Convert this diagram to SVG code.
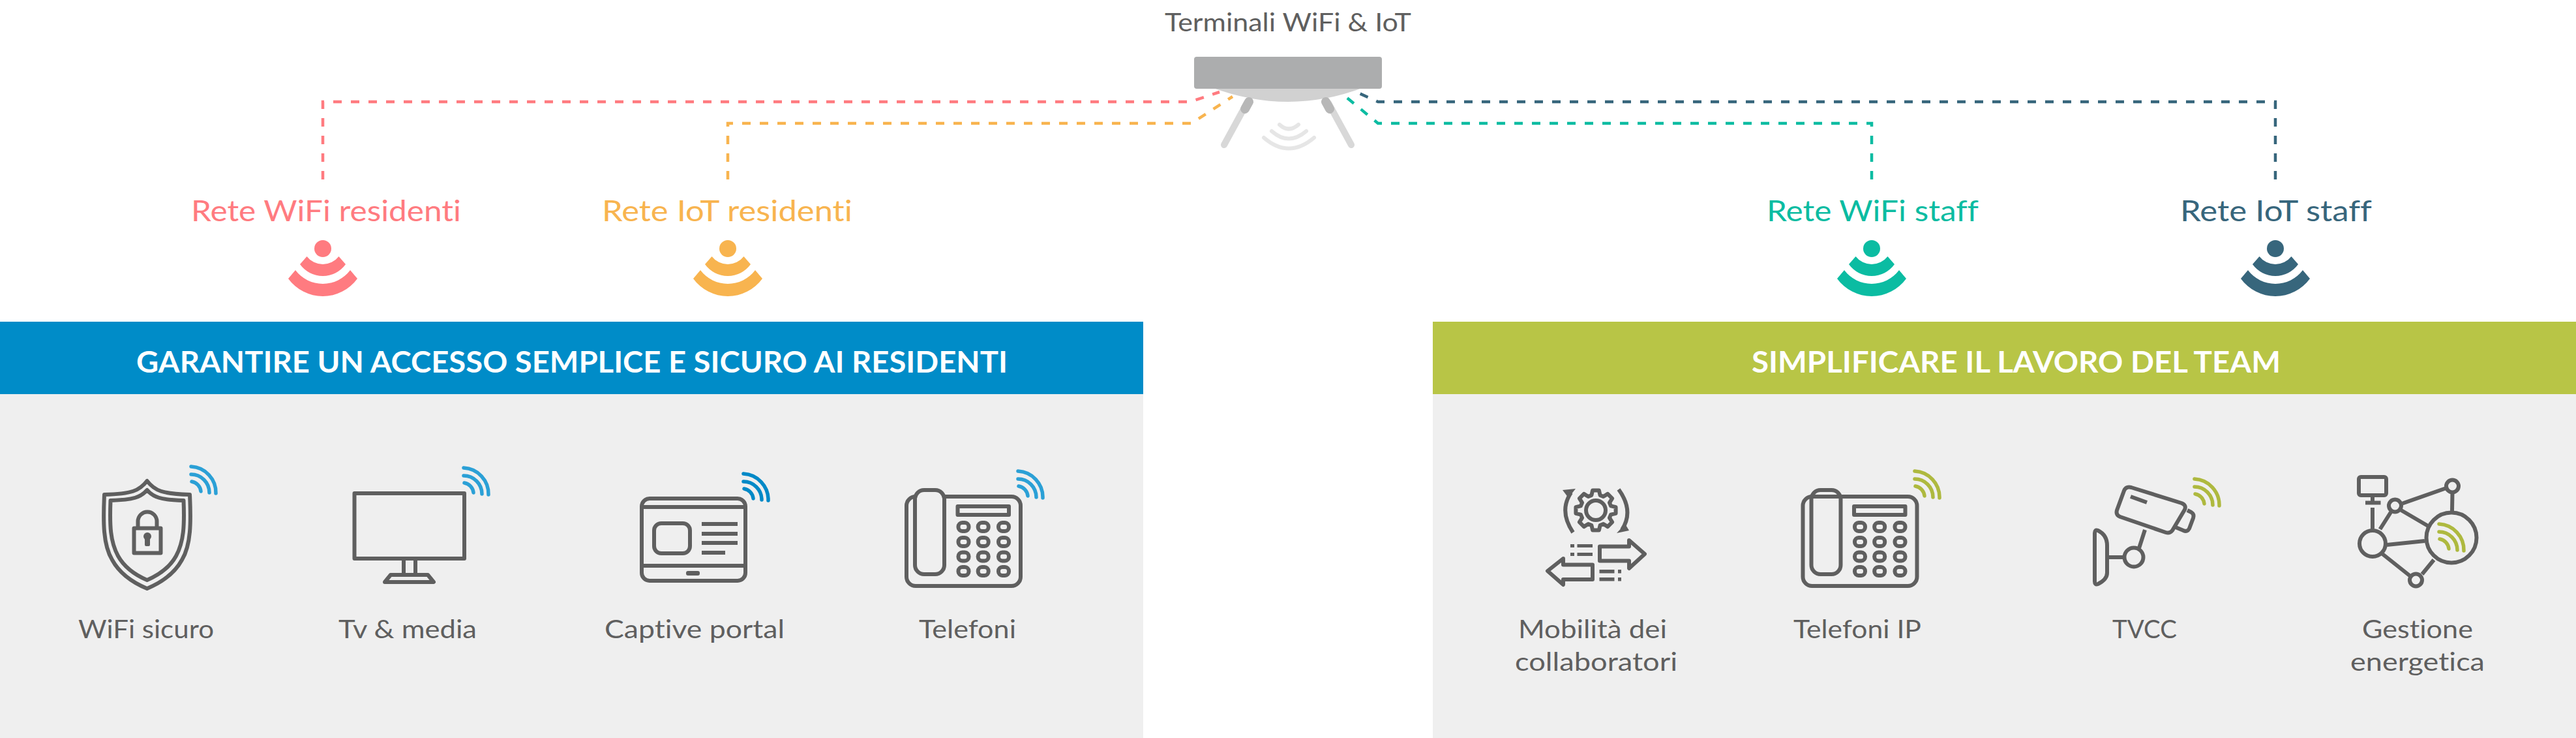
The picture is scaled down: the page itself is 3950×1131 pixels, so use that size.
<svg xmlns="http://www.w3.org/2000/svg" xmlns:xlink="http://www.w3.org/1999/xlink" width="3950" height="1131" viewBox="0 0 3950 1131">
<style>
text{font-family:"Lato","Liberation Sans",sans-serif;font-variant-ligatures:none;}
.lbl{font-size:38px;fill:#5f5f5f;}
.net{font-size:44px;}
.hdr{font-size:45px;font-weight:700;fill:#fff;}
.ic{fill:none;stroke:#5f5f5f;stroke-width:6;stroke-linejoin:round;stroke-linecap:butt;}
.ici{fill:#5f5f5f;}
.dash{fill:none;stroke-width:4.5;stroke-dasharray:13 14;}
.panel{fill:#efefef;}
.wf{fill:none;stroke:currentColor;stroke-width:5.5;stroke-linecap:round;}
.blue{color:#2ba0d6;}
.blue2{color:#0089c7;}
.green{color:#aeb93f;}
</style>
<defs>
<g id="wifi-mini" class="wf">
<path d="M1 -17A17 17 0 0 1 15 -2"/>
<path d="M0 -28A28 28 0 0 1 28 0"/>
<path d="M0 -40A40 40 0 0 1 38 1"/>
</g>
<g id="wifi-net">
<circle cx="0" cy="-73" r="13"/>
<path d="M-24.500 -61A31 31 0 0 0 24.500 -61L35 -49A43 43 0 0 1 -35 -49Z"/>
<path d="M-42 -40A52.500 52.500 0 0 0 42 -40L53 -27A65.500 65.500 0 0 1 -53 -27Z"/>
</g>
<g id="phone-body">
<rect x="1390" y="761" width="175" height="137" rx="14"/>
<rect x="1468.5" y="776" width="78.5" height="13"/>
<g id="phone-keys">
<rect x="1469.5" y="801" width="16" height="13" rx="6"/><rect x="1499.7" y="801" width="16" height="13" rx="6"/><rect x="1531" y="801" width="16" height="13" rx="6"/>
<rect x="1469.5" y="824" width="16" height="13" rx="6"/><rect x="1499.7" y="824" width="16" height="13" rx="6"/><rect x="1531" y="824" width="16" height="13" rx="6"/>
<rect x="1469.5" y="846.500" width="16" height="13" rx="6"/><rect x="1499.7" y="846.500" width="16" height="13" rx="6"/><rect x="1531" y="846.500" width="16" height="13" rx="6"/>
<rect x="1469.5" y="869" width="16" height="13" rx="6"/><rect x="1499.7" y="869" width="16" height="13" rx="6"/><rect x="1531" y="869" width="16" height="13" rx="6"/>
</g>
</g>
</defs>

<rect width="3950" height="1131" fill="#fff"/>

<g id="panel-residenti">
<rect class="panel" x="0" y="604" width="1753" height="527"/>
<rect x="0" y="493" width="1753" height="111" fill="#008cc8"/>
<text class="hdr" x="209" y="571" textLength="1336" lengthAdjust="spacingAndGlyphs">GARANTIRE UN ACCESSO SEMPLICE E SICURO AI RESIDENTI</text>
</g>
<g id="panel-team">
<rect class="panel" x="2197" y="604" width="1753" height="527"/>
<rect x="2197" y="493" width="1753" height="111" fill="#b8c546"/>
<text class="hdr" x="2686" y="571" textLength="811" lengthAdjust="spacingAndGlyphs">SIMPLIFICARE IL LAVORO DEL TEAM</text>
</g>

<g id="device">
<text class="lbl" x="1786" y="48" textLength="378" lengthAdjust="spacingAndGlyphs">Terminali WiFi &amp; IoT</text>
<path d="M1858 134Q1976 178 2091 134Z" fill="#d1d1d1"/>
<rect x="1831" y="87" width="288" height="49" rx="4" fill="#acadae"/>
<path d="M1912 158L1877 222" fill="none" stroke="#d8d8d8" stroke-width="10" stroke-linecap="round"/>
<path d="M2037 158L2072 222" fill="none" stroke="#d8d8d8" stroke-width="10" stroke-linecap="round"/>
<path d="M1915 156L1909 167" fill="none" stroke="#b7b7b7" stroke-width="14" stroke-linecap="round"/>
<path d="M2033 156L2039 167" fill="none" stroke="#b7b7b7" stroke-width="14" stroke-linecap="round"/>
<g fill="none" stroke="#e6e6e6" stroke-width="6" stroke-linecap="round">
<path d="M1962 191Q1976 204 1991 191"/>
<path d="M1950 201Q1976 224 2003 201"/>
<path d="M1938 211Q1976 244 2015 211"/>
</g>
</g>

<g id="connectors">
<path class="dash" stroke="#ff7b80" d="M495 275V156H1825L1870 141"/>
<path class="dash" stroke="#f8b44f" d="M1116 275V189H1827L1890 148"/>
<path class="dash" stroke="#0bbca2" d="M2870 275V189H2113L2062 147"/>
<path class="dash" stroke="#37667c" d="M3489 275V156H2113L2080 141"/>
</g>

<g id="net-wifi-residenti">
<text class="net" x="293" y="339" fill="#ff7b80" textLength="414" lengthAdjust="spacingAndGlyphs">Rete WiFi residenti</text>
<use href="#wifi-net" x="495" y="454" fill="#ff7b80"/>
</g>
<g id="net-iot-residenti">
<text class="net" x="923" y="339" fill="#f8b44f" textLength="384" lengthAdjust="spacingAndGlyphs">Rete IoT residenti</text>
<use href="#wifi-net" x="1116" y="454" fill="#f8b44f"/>
</g>
<g id="net-wifi-staff">
<text class="net" x="2709" y="339" fill="#0bbca2" textLength="325" lengthAdjust="spacingAndGlyphs">Rete WiFi staff</text>
<use href="#wifi-net" x="2870" y="454" fill="#0bbca2"/>
</g>
<g id="net-iot-staff">
<text class="net" x="3343" y="339" fill="#37667c" textLength="294" lengthAdjust="spacingAndGlyphs">Rete IoT staff</text>
<use href="#wifi-net" x="3489" y="454" fill="#37667c"/>
</g>

<g id="item-wifi-sicuro">
<path class="ic" d="M225.500 737C214 752 202 757 160 758C158 800 158 835 172 858C184 880 204 893 225.500 902C247 893 267 880 279 858C293 835 293 800 291 758C249 757 237 752 225.500 737Z"/>
<path class="ic" d="M225.500 751C216 762 205 766 169.500 767C168 805 169 830 181 852C191 870 207 881 225.500 889C244 881 260 870 270 852C282 830 283 805 281.500 767C246 766 235 762 225.500 751Z"/>
<rect class="ic" x="205.500" y="809.500" width="41" height="38"/>
<path class="ic" d="M211.500 807V799a14.500 14.500 0 0 1 29 0V807"/>
<circle class="ici" cx="226" cy="822" r="6"/><rect class="ici" x="222" y="822" width="8" height="15" rx="2"/>
<use href="#wifi-mini" x="293" y="755" class="blue"/>
<text class="lbl" x="120" y="978" textLength="208" lengthAdjust="spacingAndGlyphs">WiFi sicuro</text>
</g>

<g id="item-tv">
<rect class="ic" x="543.500" y="756" width="168.500" height="100"/>
<path class="ic" d="M619 859V878M637 859V878"/>
<path class="ic" d="M599 881H656L665 892H590Z"/>
<use href="#wifi-mini" x="711" y="757" class="blue"/>
<text class="lbl" x="519" y="978" textLength="212" lengthAdjust="spacingAndGlyphs">Tv &amp; media</text>
</g>

<g id="item-captive">
<rect class="ic" x="984" y="764" width="159" height="126" rx="12"/>
<path class="ic" d="M984 777H1143M984 867H1143"/>
<rect class="ic" x="1003" y="802" width="55" height="46" rx="11"/>
<path class="ic" d="M1076 803H1131M1076 818H1131M1076 832H1131M1076 847H1112"/>
<rect class="ici" x="1052" y="875" width="21" height="7" rx="3"/>
<use href="#wifi-mini" x="1140" y="766" class="blue2"/>
<text class="lbl" x="927" y="978" textLength="276" lengthAdjust="spacingAndGlyphs">Captive portal</text>
</g>

<g id="item-telefoni">
<use href="#phone-body" class="ic"/>
<rect class="ic" style="fill:#efefef" x="1403" y="751" width="45" height="129" rx="14"/>
<use href="#wifi-mini" x="1561" y="762" class="blue"/>
<text class="lbl" x="1409" y="978" textLength="149" lengthAdjust="spacingAndGlyphs">Telefoni</text>
</g>

<g id="item-mobilita">
<path class="ic" transform="translate(2447 782)" stroke-width="5" d="M-6.600 -23.100L-4.850 -30.600L4.850 -30.600L6.600 -23.100L11.600 -21L18.200 -25.100L25.100 -18.200L21 -11.600L23.100 -6.600L30.600 -4.850L30.600 4.850L23.100 6.600L21 11.600L25.100 18.200L18.200 25.100L11.600 21L6.600 23.100L4.850 30.600L-4.850 30.600L-6.600 23.100L-11.600 21L-18.200 25.100L-25.100 18.200L-21 11.600L-23.100 6.600L-30.600 4.850L-30.600 -4.850L-23.100 -6.600L-21 -11.600L-25.100 -18.200L-18.200 -25.100L-11.600 -21Z"/>
<circle class="ic" cx="2447" cy="782" r="15"/>
<path class="ic" d="M2412 816Q2390 783 2409 755"/>
<path class="ici" d="M2396 751L2416 749L2405 763Z"/>
<path class="ic" d="M2482 750Q2506 783 2487 812"/>
<path class="ici" d="M2498 813L2479 817L2492 803Z"/>
<path class="ic" d="M2453 837.500H2498V828L2522 849L2498 871V859.500H2453Z"/>
<path class="ic" d="M2442 865.500H2397V856L2373 875L2397 896V888H2442Z"/>
<path class="ici" d="M2408 834h6v5h-6zM2418.500 834h23.500v5h-23.500zM2408 847h6v5h-6zM2418.500 847h23.500v5h-23.500zM2452.500 873h23v5.500h-23zM2481 873h5v5.500h-5zM2452.500 885h23v5.500h-23zM2481 885h5v5.500h-5z"/>
<text class="lbl" x="2328" y="978" textLength="228" lengthAdjust="spacingAndGlyphs">Mobilità dei</text>
<text class="lbl" x="2323" y="1028" textLength="249" lengthAdjust="spacingAndGlyphs">collaboratori</text>
</g>

<g id="item-telefoni-ip">
<use href="#phone-body" class="ic" x="1374.500"/>
<rect class="ic" x="2777.500" y="751" width="45" height="129" rx="14"/>
<use href="#wifi-mini" x="2936" y="762" class="green"/>
<text class="lbl" x="2750" y="978" textLength="196" lengthAdjust="spacingAndGlyphs">Telefoni IP</text>
</g>

<g id="item-tvcc">
<path class="ic" d="M3268 747L3345 771Q3353 774 3350 781L3331 813Q3327 818 3321 816L3251 792Q3244 789 3246 782L3257 752Q3260 745 3268 747Z"/>
<path class="ic" d="M3354 782L3360 785Q3365 788 3363 794L3357 810Q3354 816 3348 813L3336 808"/>
<path class="ic" stroke-linecap="round" d="M3267 761L3292 770"/>
<path class="ic" d="M3289 812L3280 840M3232 854H3258"/>
<circle class="ic" cx="3272" cy="854" r="14.500"/>
<path class="ic" d="M3212 817Q3212 811 3217 813Q3231 820 3231 836V878Q3231 888 3217 895Q3212 897 3212 891Z"/>
<use href="#wifi-mini" x="3365" y="774" class="green"/>
<text class="lbl" x="3239" y="978" textLength="99" lengthAdjust="spacingAndGlyphs">TVCC</text>
</g>

<g id="item-energia">
<circle class="ic" cx="3759" cy="824" r="38.500"/>
<circle class="ic" cx="3638" cy="833" r="20"/>
<circle class="ic" cx="3672.500" cy="775" r="9.500"/>
<circle class="ic" cx="3760.500" cy="745" r="9.500"/>
<circle class="ic" cx="3704.500" cy="889" r="9.500"/>
<rect class="ic" x="3617" y="731" width="42" height="28" rx="3"/>
<path class="ic" d="M3638 762V769M3627 770.500H3650.500M3638 778V811M3649.500 811L3666 785M3684 771.500L3751 748M3760.500 755L3760 783M3682 782L3723 806M3660 835L3718 829M3652 848L3696 883M3714 880L3732 858"/>
<use href="#wifi-mini" x="3740" y="843" class="green"/>
<text class="lbl" x="3622" y="978" textLength="170" lengthAdjust="spacingAndGlyphs">Gestione</text>
<text class="lbl" x="3604" y="1028" textLength="206" lengthAdjust="spacingAndGlyphs">energetica</text>
</g>
</svg>
